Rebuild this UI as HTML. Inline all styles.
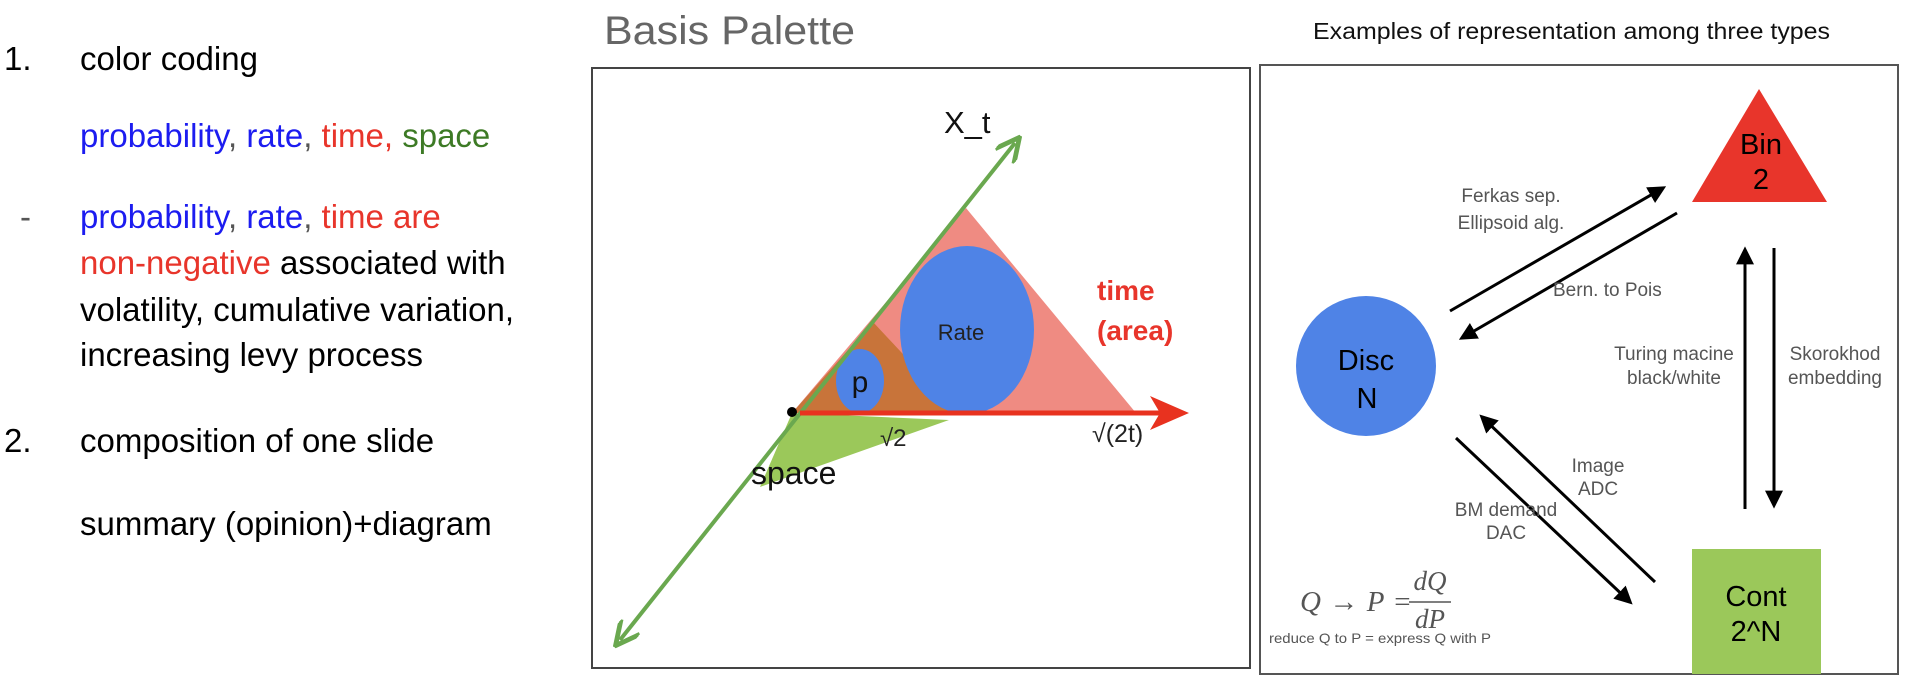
<!DOCTYPE html>
<html><head><meta charset="utf-8"><style>
html,body{margin:0;padding:0;background:#fff;}
svg{display:block;font-family:"Liberation Sans",Arial,sans-serif;}
</style></head><body>
<svg width="1906" height="686" viewBox="0 0 1906 686">
<defs>
<marker id="ah" viewBox="0 0 10 10" refX="8" refY="5" markerWidth="6" markerHeight="6" orient="auto-start-reverse" markerUnits="strokeWidth"><path d="M0,0 L10,5 L0,10 z" fill="#000"/></marker>
<marker id="gh" viewBox="0 0 10 10" refX="7" refY="5" markerWidth="7" markerHeight="6" orient="auto-start-reverse" markerUnits="strokeWidth"><path d="M0,0 L10,5 L0,10" fill="none" stroke="#6aa84f" stroke-width="2"/></marker>
</defs>

<!-- Left text -->
<g font-size="33">
<text x="4" y="70" fill="#000">1.</text>
<text x="80" y="70" fill="#000">color coding</text>
<text x="80" y="147"><tspan fill="#1c1cf0">probability</tspan><tspan fill="#555">, </tspan><tspan fill="#1c1cf0">rate</tspan><tspan fill="#555">, </tspan><tspan fill="#e8352b">time, </tspan><tspan fill="#3d7a25">space</tspan></text>
<text x="20" y="228" fill="#555">-</text>
<text x="80" y="228"><tspan fill="#1c1cf0">probability</tspan><tspan fill="#555">, </tspan><tspan fill="#1c1cf0">rate</tspan><tspan fill="#555">, </tspan><tspan fill="#e8352b">time are</tspan></text>
<text x="80" y="274"><tspan fill="#e8352b">non-negative</tspan><tspan fill="#000"> associated with</tspan></text>
<text x="80" y="321" fill="#000">volatility, cumulative variation,</text>
<text x="80" y="366" fill="#000">increasing levy process</text>
<text x="4" y="452" fill="#000">2.</text>
<text x="80" y="452" fill="#000">composition of one slide</text>
<text x="80" y="535" fill="#000">summary (opinion)+diagram</text>
</g>

<!-- Basis palette -->
<text x="604" y="44" font-size="40" fill="#666" textLength="251" lengthAdjust="spacingAndGlyphs">Basis Palette</text>
<rect x="592" y="68" width="658" height="600" fill="#fff" stroke="#444" stroke-width="2"/>
<polygon points="792,413 966,208 1136,413" fill="#ef8b82"/>
<polygon points="792,413 873,322 958,413" fill="#c8743a"/>
<ellipse cx="967" cy="330" rx="67" ry="84" fill="#4f83e6"/>
<ellipse cx="860" cy="381" rx="24" ry="32" fill="#4f83e6"/>
<polygon points="792,413 949,420 760,487" fill="#9bc85a"/>
<line x1="620" y1="640" x2="1015" y2="143" stroke="#6aa84f" stroke-width="4" marker-start="url(#gh)" marker-end="url(#gh)"/>
<line x1="800" y1="413" x2="1160" y2="413" stroke="#e8321f" stroke-width="5"/>
<path d="M1150,396 L1189,413 L1150,430 L1160,413 z" fill="#e8321f"/>
<circle cx="792" cy="412" r="5" fill="#000"/>
<text x="944" y="133" font-size="31" fill="#111">X_t</text>
<text x="961" y="340" font-size="22" fill="#222" text-anchor="middle">Rate</text>
<text x="860" y="392" font-size="30" fill="#111" text-anchor="middle">p</text>
<text x="751" y="484" font-size="32" fill="#111">space</text>
<text x="880" y="446" font-size="24" fill="#222">√2</text>
<text x="1092" y="442" font-size="25" fill="#222">√(2t)</text>
<text x="1097" y="300" font-size="28" font-weight="bold" fill="#e8352b">time</text>
<text x="1097" y="340" font-size="28" font-weight="bold" fill="#e8352b">(area)</text>

<!-- Examples panel -->
<text x="1313" y="39" font-size="23" fill="#111" textLength="517" lengthAdjust="spacingAndGlyphs">Examples of representation among three types</text>
<rect x="1260" y="65" width="638" height="609" fill="#fff" stroke="#555" stroke-width="2"/>
<circle cx="1366" cy="366" r="70" fill="#4f83e6"/>
<text x="1366" y="370" font-size="29" text-anchor="middle" fill="#000">Disc</text>
<text x="1367" y="408" font-size="29" text-anchor="middle" fill="#000">N</text>
<polygon points="1759,89 1827,202 1692,202" fill="#e8352b"/>
<text x="1761" y="154" font-size="29" text-anchor="middle" fill="#000">Bin</text>
<text x="1761" y="189" font-size="29" text-anchor="middle" fill="#000">2</text>
<rect x="1692" y="549" width="129" height="125" fill="#9bc85a"/>
<text x="1756" y="606" font-size="29" text-anchor="middle" fill="#000">Cont</text>
<text x="1756" y="641" font-size="29" text-anchor="middle" fill="#000">2^N</text>

<g stroke="#000" stroke-width="3">
<line x1="1450" y1="311" x2="1663" y2="188" marker-end="url(#ah)"/>
<line x1="1677" y1="213" x2="1462" y2="338" marker-end="url(#ah)"/>
<line x1="1745" y1="509" x2="1745" y2="250" marker-end="url(#ah)"/>
<line x1="1774" y1="248" x2="1774" y2="505" marker-end="url(#ah)"/>
<line x1="1655" y1="582" x2="1482" y2="417" marker-end="url(#ah)"/>
<line x1="1456" y1="438" x2="1630" y2="602" marker-end="url(#ah)"/>
</g>

<g font-size="19" fill="#555" text-anchor="middle">
<text x="1511" y="202">Ferkas sep.</text>
<text x="1511" y="229">Ellipsoid alg.</text>
<text x="1553" y="296" text-anchor="start">Bern. to Pois</text>
<text x="1674" y="360">Turing macine</text>
<text x="1674" y="384">black/white</text>
<text x="1835" y="360">Skorokhod</text>
<text x="1835" y="384">embedding</text>
<text x="1598" y="472">Image</text>
<text x="1598" y="495">ADC</text>
<text x="1506" y="516">BM demand</text>
<text x="1506" y="539">DAC</text>
</g>

<g font-family="Liberation Serif,serif" fill="#555">
<text x="1300" y="611" font-size="29" font-style="italic" textLength="112">Q → P =</text>
<text x="1430" y="590" font-size="27" font-style="italic" text-anchor="middle">dQ</text>
<line x1="1409" y1="602" x2="1451" y2="602" stroke="#555" stroke-width="1.5"/>
<text x="1430" y="628" font-size="27" font-style="italic" text-anchor="middle">dP</text>
</g>
<text x="1269" y="643" font-size="14" fill="#555" textLength="222" lengthAdjust="spacingAndGlyphs">reduce Q to P = express Q with P</text>
</svg>
</body></html>
